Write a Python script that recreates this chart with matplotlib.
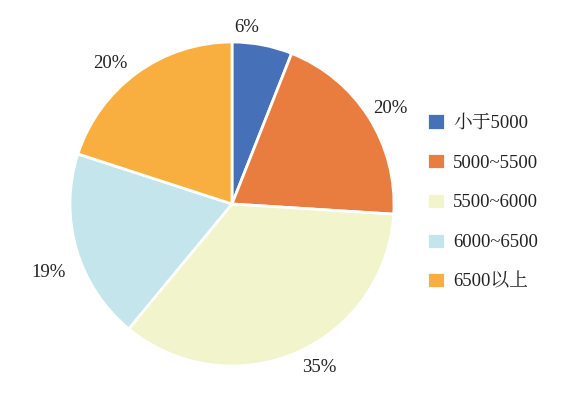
import matplotlib
matplotlib.use("Agg")
import matplotlib.pyplot as plt

# Data
labels = ["小于5000", "5000~5500", "5500~6000", "6000~6500", "6500以上"]
shares = [6, 20, 35, 19, 20]
colors = ["#4671B8", "#E87D3F", "#F2F4CB", "#C3E5EB", "#F9AF40"]

# percentage label spots (in pie-radius units, relative to the centre)
pct_pos = [(0.09, 1.09), (0.98, 0.59), (0.54, -1.01), (-1.13, -0.42), (-0.75, 0.87)]

plt.rcParams["font.family"] = ["Liberation Serif", "Noto Serif CJK SC", "Noto Sans CJK SC"]

W, H, DPI = 567, 393, 100
fig = plt.figure(figsize=(W / DPI, H / DPI), dpi=DPI)

# pie centre (232, 204) px from top-left, radius 162 px
cx, cy, r = 232, 204, 162
lim = 1.25
half = lim * r
ax = fig.add_axes([(cx - half) / W, (H - cy - half) / H, 2 * half / W, 2 * half / H])
ax.set_xlim(-lim, lim)
ax.set_ylim(-lim, lim)
ax.axis("off")

wedges, texts, autotexts = ax.pie(
    shares,
    colors=colors,
    startangle=90,
    counterclock=False,
    radius=1.0,
    autopct="%d%%",
    pctdistance=1.12,
    wedgeprops=dict(edgecolor="white", linewidth=2),
    textprops=dict(fontsize=13.5, color="#222222"),
)
for t, pos in zip(autotexts, pct_pos):
    t.set_position(pos)
    t.set_clip_on(False)

fig.legend(
    wedges,
    labels,
    loc="upper left",
    bbox_to_anchor=(410 / W, 1 - 96.5 / H),
    frameon=False,
    fontsize=13.5,
    handlelength=0.95,
    handleheight=0.95,
    handletextpad=0.45,
    labelspacing=1.13,
    labelcolor="#222222",
)

fig.savefig("out.png", dpi=DPI, facecolor="white")
